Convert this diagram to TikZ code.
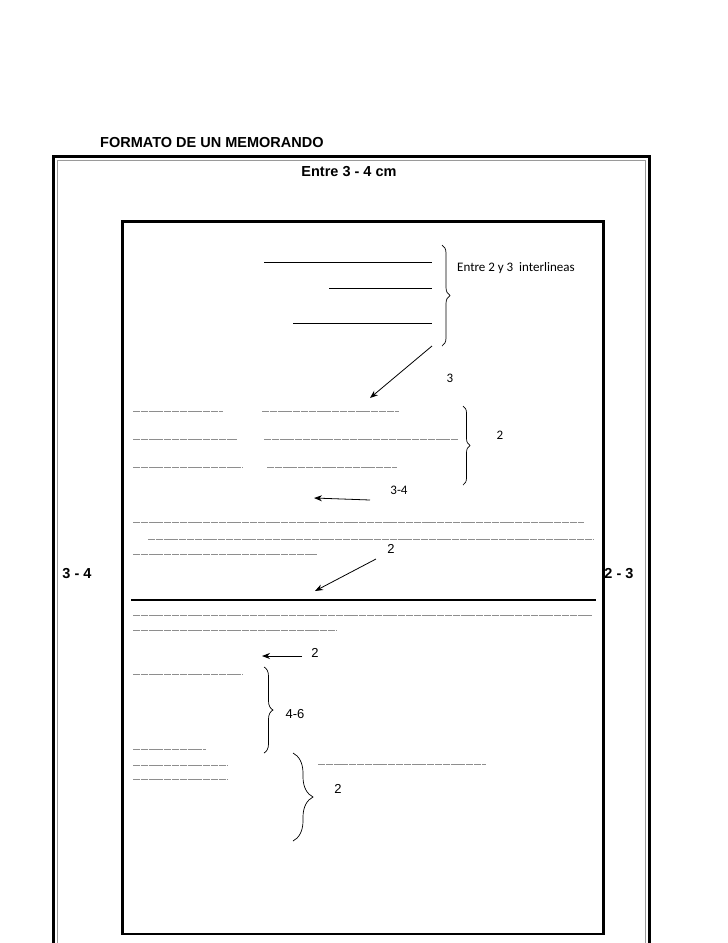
\documentclass[tikz,border=0pt]{standalone}
\usepackage{fontspec}
\setmainfont{Liberation Sans}
\newfontfamily\calibri{Carlito}
\usetikzlibrary{arrows.meta, decorations.pathreplacing, positioning}
\definecolor{RuleGray}{HTML}{8E8E8E}
\definecolor{FrameGray}{HTML}{9A9A9A}

\tikzset{
  fillrule/.style={draw=RuleGray, line width=1pt, dash pattern=on 7pt off 0.8pt},
  solidrule/.style={draw=black, line width=0.8pt},
  pointer/.style={-{Stealth[length=8pt,width=6pt]}, line width=0.8pt},
  curly/.style={decorate, decoration={brace, amplitude=#1}, line width=0.7pt},
  heading/.style={font=\bfseries\fontsize{14.5}{17}\selectfont, inner sep=0pt},
  numlbl/.style={font=\fontsize{13}{15}\selectfont, inner sep=0pt},
  callbl/.style={font=\calibri\fontsize{13}{15}\selectfont, inner sep=0pt},
}

\begin{document}
\begin{tikzpicture}[x=1pt, y=-1pt]
    \useasboundingbox (0,0) rectangle (728,943);
    \clip (0,0) rectangle (728,943);

    % Page frame
    \draw[line width=3pt] (53,156) rectangle (649,970);
    \draw[FrameGray, line width=1pt] (57,160) rectangle (645,970);

    % Margin labels
    \node[heading, anchor=west] (title) at (100,143) {FORMATO DE UN MEMORANDO};
    \node[heading] (mtop) at (349,172) {Entre 3 - 4 cm};
    \node[heading] (mleft) at (77,574) {3 - 4};
    \node[heading] (mright) at (619,574) {2 - 3};

    % Writing area
    \draw[line width=2.5pt, fill=none] (122.5,221.5) rectangle (603.5,934);

    % Heading lines
    \draw[solidrule] (264,262) -- (432,262);
    \draw[solidrule] (329,288) -- (432,288);
    \draw[solidrule] (293,323) -- (432,323);
    \draw[curly=8pt] (442,245) -- (442,346);
    \node[callbl, anchor=west] (interl) at (457,268) {Entre 2 y 3\ \ interlineas};

    \coordinate (p1a) at (432,346);
    \coordinate (p1b) at (370,398);
    \draw[pointer] (p1a) -- (p1b);
    \node[callbl] (n3) at (450,378) {3};

    % Para / De / Asunto
    \draw[fillrule] (133,411) -- (223,411);
    \draw[fillrule] (262,411) -- (399,411);
    \draw[fillrule] (133,439) -- (237,439);
    \draw[fillrule] (264,439) -- (458,439);
    \draw[fillrule] (133,467) -- (243,467);
    \draw[fillrule] (267,467) -- (397,467);
    \draw[curly=7pt] (463,406) -- (463,485);
    \node[callbl] (n2a) at (500,435) {2};

    \coordinate (p2a) at (370,500);
    \coordinate (p2b) at (314,498);
    \draw[pointer] (p2a) -- (p2b);
    \node[callbl] (n34) at (399,490) {3-4};

    % Body
    \draw[fillrule] (133,522) -- (584,522);
    \draw[fillrule] (148,539) -- (594,539);
    \draw[fillrule] (133,554) -- (317,554);
    \node[numlbl] (n2b) at (391,549) {2};
    \coordinate (p3a) at (376,559);
    \coordinate (p3b) at (315,591);
    \draw[pointer] (p3a) -- (p3b);

    \draw[line width=1.8pt] (131,600) -- (596,600);
    \draw[fillrule] (133,615) -- (592,615);
    \draw[fillrule] (133,630) -- (337,630);

    % Closing and signature
    \coordinate (p4a) at (302,656);
    \coordinate (p4b) at (262,656);
    \draw[pointer] (p4a) -- (p4b);
    \node[numlbl] (n2c) at (315,653) {2};

    \draw[fillrule] (133,674) -- (243,674);
    \draw[curly=9pt] (264,667) -- (264,753);
    \node[numlbl] (n46) at (295,714) {4-6};

    \draw[fillrule] (133,749) -- (206,749);
    \draw[fillrule] (133,765) -- (228,765);
    \draw[fillrule] (133,779) -- (228,779);
    \draw[curly=20pt] (293,753) -- (293,841);
    \draw[fillrule] (318,764) -- (486,764);
    \node[numlbl] (n2d) at (338,789) {2};
\end{tikzpicture}
\end{document}
